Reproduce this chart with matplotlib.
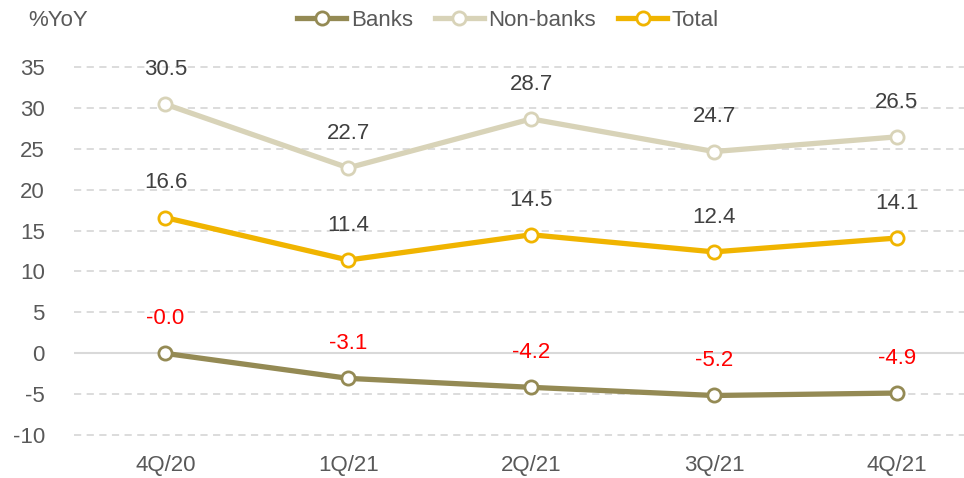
import matplotlib.pyplot as plt

plt.rcParams['font.family'] = ['Liberation Sans', 'DejaVu Sans']
plt.rcParams['axes.unicode_minus'] = False

quarters = ['4Q/20', '1Q/21', '2Q/21', '3Q/21', '4Q/21']
banks = [-0.04, -3.1, -4.2, -5.2, -4.9]
non_banks = [30.5, 22.7, 28.7, 24.7, 26.5]
total = [16.6, 11.4, 14.5, 12.4, 14.1]
y_ticks = [-10, -5, 0, 5, 10, 15, 20, 25, 30, 35]

series = [
    ('Banks', banks, '#948A54', '#FF0000'),
    ('Non-banks', non_banks, '#D8D3B8', '#404040'),
    ('Total', total, '#F0B400', '#404040'),
]

fig = plt.figure(figsize=(9.64, 4.78), dpi=100)
ax = fig.add_axes([0.0768, 0.048, 0.923, 0.862])

x = list(range(len(quarters)))
for name, vals, color, label_color in series:
    ax.plot(x, vals, color=color, lw=3.8, marker='o', ms=9.5,
            mfc='white', mec=color, mew=2, label=name, zorder=3)
    for xi, v in zip(x, vals):
        ax.annotate(f'{v:.1f}', (xi, v), xytext=(0, 25), textcoords='offset points',
                    ha='center', va='center', fontsize=16, color=label_color)

ax.set_xlim(-0.5, 4.366)
ax.set_ylim(-12.5, 38)
ax.set_yticks(y_ticks)
ax.set_xticks(x)
ax.set_xticklabels(quarters)
for t in y_ticks:
    if t == 0:
        ax.axhline(0, color='#D9D9D9', lw=1.5, zorder=1)
    else:
        ax.axhline(t, color='#D9D9D9', lw=1.3, ls=(0, (4, 3)), zorder=1)

for s in ax.spines.values():
    s.set_visible(False)
ax.tick_params(length=0, labelsize=16, colors='#595959')
ax.tick_params(axis='y', pad=21)
ax.tick_params(axis='x', pad=0)

fig.text(0.029, 0.958, '%YoY', fontsize=16, color='#595959', va='center')
fig.legend(loc='center', bbox_to_anchor=(0.527, 0.958), ncol=3, frameon=False,
           fontsize=16, handlelength=2.2, handletextpad=0.2, columnspacing=1.0,
           labelcolor='#595959')

fig.savefig('out.png', dpi=100)
